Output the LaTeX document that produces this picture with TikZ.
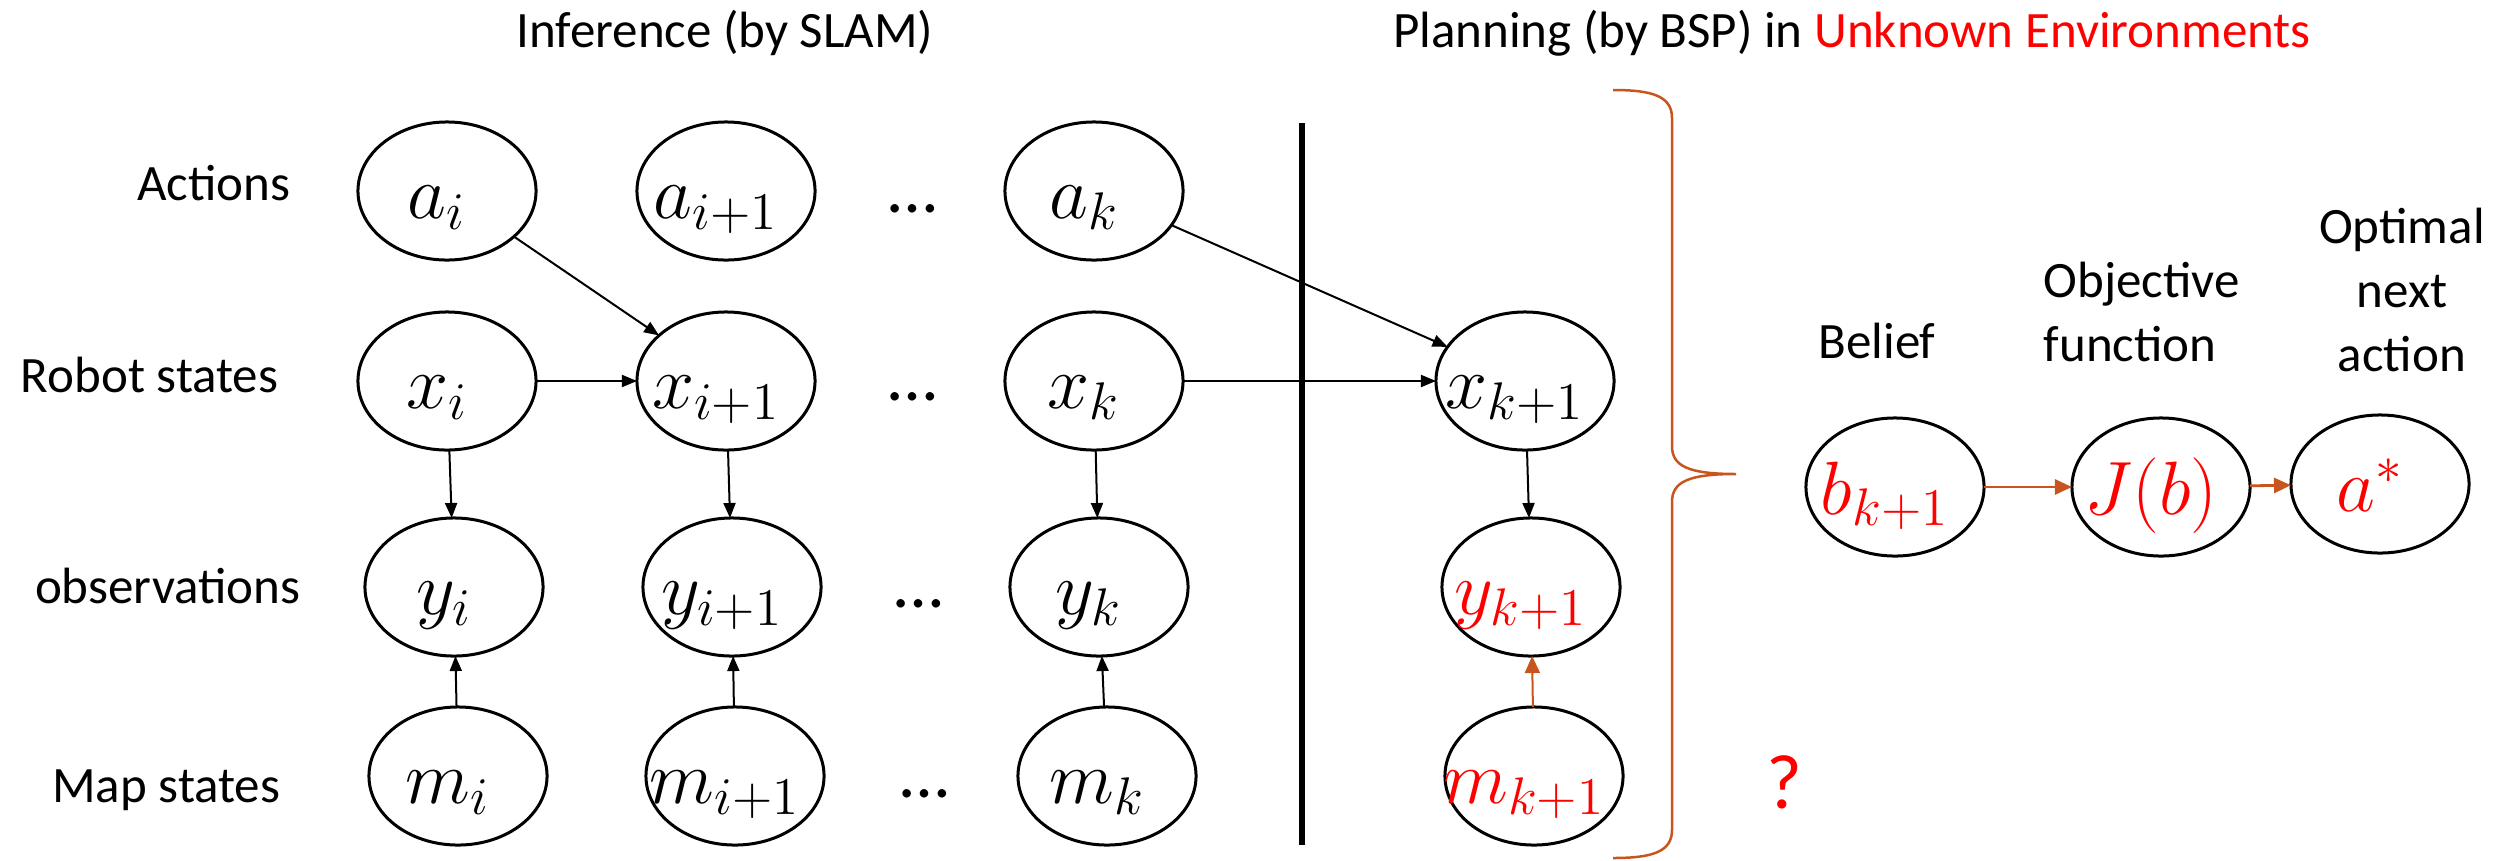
\RequirePackage{fix-cm}
\documentclass[tikz,border=0pt]{standalone}
\usepackage{fontspec}
\setmainfont{Carlito}
\usetikzlibrary{shapes.geometric,arrows.meta}

\definecolor{accentor}{RGB}{200,85,30}
\definecolor{hired}{RGB}{255,0,0}

% math label set inside a variable node, centred a little left and below the centre
\newcommand\mlab[1]{\makebox[0pt]{\raisebox{-0.27cm}[0pt][0pt]{\fontsize{21.5}{26}\selectfont$#1$}\hspace{0.2cm}}}
\newcommand\mlabr[1]{\mlab{\color{hired}#1}}

\begin{document}
\begin{tikzpicture}[x=0.01cm,y=-0.01cm,
  var/.style={ellipse, draw=black, line width=0.03cm, minimum width=1.78cm,
              minimum height=1.38cm, inner sep=0pt, outer sep=0pt},
  lbl/.style={font=\fontsize{14.5}{18.2}\selectfont, inner sep=0pt},
  dotsnode/.style={font=\fontsize{20}{24}\selectfont, inner sep=0pt, anchor=base},
  conn/.style={line width=0.02cm, -{Triangle[length=0.15cm,width=0.12cm]}},
  connor/.style={line width=0.02cm, color=accentor, -{Triangle[length=0.17cm,width=0.15cm]}},
  connorb/.style={connor, line width=0.028cm}]

\useasboundingbox (0,0) rectangle (2502,860);

% headings
\node[lbl, anchor=base] (tinf) at (725,47) {Inference (by SLAM)};
\node[lbl, anchor=base] (tplan) at (1852,47) {Planning (by BSP) in \textcolor{hired}{Unknown Environments}};

% row captions
\node[lbl, anchor=base east] (lact) at (291,200) {Actions};
\node[lbl, anchor=base east] (lrob) at (279,392) {Robot states};
\node[lbl, anchor=base east] (lobs) at (301,603) {observations};
\node[lbl, anchor=base east] (lmap) at (281,802) {Map states};

% actions
\node[var] (ai)  at (447,191)  {\mlab{a_i}};
\node[var] (ai1) at (726,191)  {\mlab{a_{i+1}}};
\node[var] (ak)  at (1094,191) {\mlab{a_k}};
% robot states
\node[var] (xi)  at (447,381)  {\mlab{x_i}};
\node[var] (xi1) at (726,381)  {\mlab{x_{i+1}}};
\node[var] (xk)  at (1094,381) {\mlab{x_k}};
\node[var] (xk1) at (1525,381) {\mlab{x_{k+1}}};
% observations
\node[var] (yi)  at (454,587)  {\mlab{y_i}};
\node[var] (yi1) at (732,587)  {\mlab{y_{i+1}}};
\node[var] (yk)  at (1099,587) {\mlab{y_k}};
\node[var] (yk1) at (1531,587) {\mlabr{y_{k+1}}};
% map states
\node[var] (mi)  at (458,776)  {\mlab{m_i}};
\node[var] (mi1) at (735,776)  {\mlab{m_{i+1}}};
\node[var] (mk)  at (1107,776) {\mlab{m_k}};
\node[var] (mk1) at (1534,776) {\mlabr{m_{k+1}}};

% ellipses between columns
\node[dotsnode] (da) at (913,212) {…};
\node[dotsnode] (dx) at (913,400) {…};
\node[dotsnode] (dy) at (919,607) {…};
\node[dotsnode] (dm) at (925,797) {…};

% separator between inference and planning
\coordinate (septop) at (1302,123);
\coordinate (sepbot) at (1302,845);
\draw[line width=0.06cm] (septop) -- (sepbot);

% dependencies
\draw[conn] (ai) -- (xi1);
\draw[conn] (ak) -- (xk1);
\draw[conn] (xi) -- (xi1);
\draw[conn] (xk) -- (xk1);
\draw[conn] (xi) -- (yi);
\draw[conn] (xi1) -- (yi1);
\draw[conn] (xk) -- (yk);
\draw[conn] (xk1) -- (yk1);
\draw[conn] (mi) -- (yi);
\draw[conn] (mi1) -- (yi1);
\draw[conn] (mk) -- (yk);
\draw[connor] (mk1) -- (yk1);

% brace gathering the planning column
\coordinate (btop) at (1613,90);
\coordinate (btip) at (1736,474);
\coordinate (bbot) at (1613,858);
\draw[accentor, line width=0.025cm]
  (btop) .. controls (1652,90) and (1672,96) .. (1672,118)
  -- (1672,446) .. controls (1672,466) and (1688,474) .. (btip)
  .. controls (1688,474) and (1672,482) .. (1672,502)
  -- (1672,830) .. controls (1672,852) and (1652,858) .. (bbot);

\node[inner sep=0pt, anchor=base, text=hired, font=\fontsize{22}{26}\selectfont] (qm) at (1784,808) {?};

% belief, objective and optimal action
\node[lbl, anchor=base] (tbel) at (1877,358) {Belief};
\node[lbl, anchor=base west] (tobj) at (2043,297)
  {\begin{tabular}[t]{@{}l@{}}Objective\\function\end{tabular}};
\node[lbl, anchor=base] (topt) at (2402,243)
  {\begin{tabular}[t]{@{}c@{}}Optimal\\next\\action\end{tabular}};

\node[var] (bk1) at (1895,487) {\mlabr{b_{k+1}}};
\node[var] (jb)  at (2161,487) {\mlabr{J(b)}};
\node[var] (ast) at (2380,484) {\mlabr{a^*}};

\draw[connorb] (bk1) -- (jb);
\draw[connorb] (jb) -- (ast);
\end{tikzpicture}
\end{document}
